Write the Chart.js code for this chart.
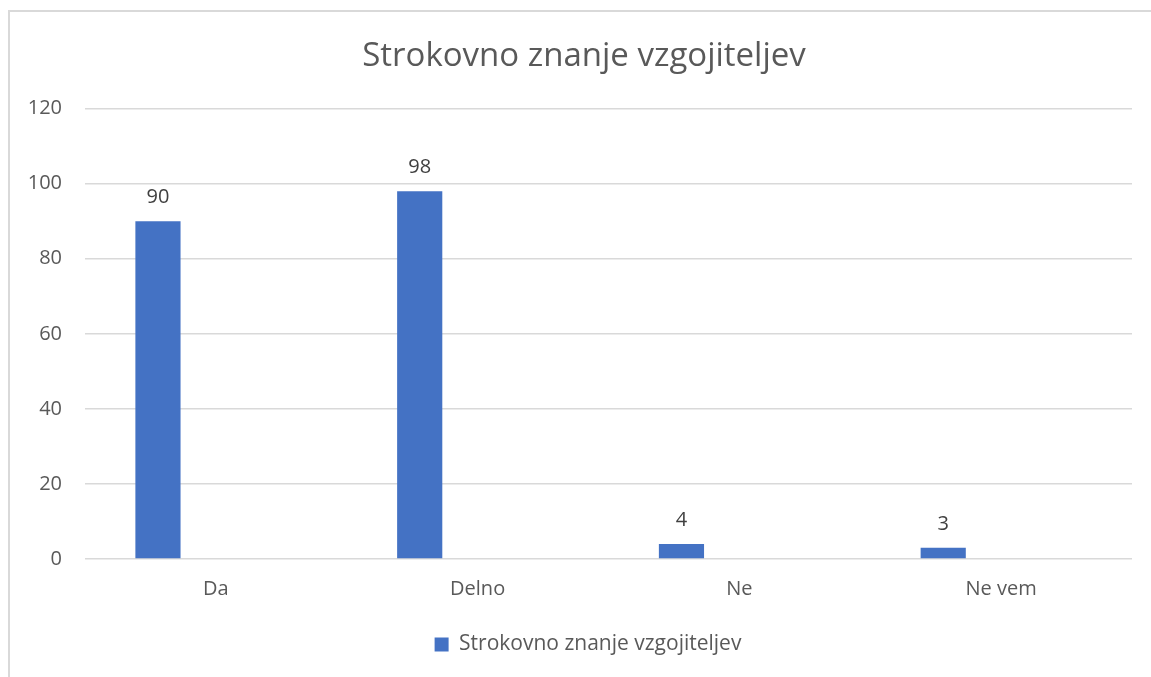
<!DOCTYPE html>
<html>
<head>
<meta charset="utf-8">
<script src="https://cdn.jsdelivr.net/npm/chart.js@4.4.1/dist/chart.umd.min.js"></script>
<style>
  html, body { margin: 0; padding: 0; background: #fff; overflow: hidden; width: 1151px; height: 677px; }
  #clip { position: absolute; left: 0; top: 0; width: 1151px; height: 677px; overflow: hidden; }
  #frame { position: absolute; left: 8px; top: 10px; width: 1400px; height: 900px;
           border-left: 2px solid #d9d9d9; border-top: 2px solid #d9d9d9; }
  #wrap { position: absolute; left: 0; top: 0; width: 1151px; height: 677px; }
</style>
</head>
<body>
<div id="clip"><div id="frame"></div></div>
<div id="wrap"><canvas id="chart"></canvas></div>
<script>
// Kategorien und Werte
const categories = ['Da', 'Delno', 'Ne', 'Ne vem'];
const znanje = [90, 98, 4, 3];
// leere zweite Reihe (wie im Excel-Original, schiebt Balken nach links)
const prazno = [null, null, null, null];
const yTicks = [0, 20, 40, 60, 80, 100, 120];

const FONT = '"Open Sans", "Liberation Sans", sans-serif';

// Werte über den Balken
const valueLabels = {
  id: 'valueLabels',
  afterDatasetsDraw(chart) {
    const ctx = chart.ctx;
    const meta = chart.getDatasetMeta(0);
    ctx.save();
    ctx.font = '20px ' + FONT;
    ctx.fillStyle = '#404040';
    ctx.textAlign = 'center';
    ctx.textBaseline = 'alphabetic';
    meta.data.forEach((bar, i) => {
      ctx.fillText(String(znanje[i]), bar.x, bar.y - 18);
    });
    ctx.restore();
  }
};

// Titel und Legende etwas nach rechts (im Original mittig im Rahmen)
const shiftBlocks = {
  id: 'shiftBlocks',
  afterLayout(chart) {
    chart.titleBlock.left += 18;
    chart.titleBlock.right += 18;
    chart.legend.left += 22;
    chart.legend.right += 22;
  }
};

new Chart(document.getElementById('chart'), {
  type: 'bar',
  data: {
    labels: categories,
    datasets: [{
      label: 'Strokovno znanje vzgojiteljev',
      data: znanje,
      backgroundColor: '#4472C4',
      categoryPercentage: 0.885,
      barPercentage: 0.39
    }, {
      label: '',
      data: prazno,
      backgroundColor: '#ED7D31',
      categoryPercentage: 0.885,
      barPercentage: 0.39
    }]
  },
  options: {
    responsive: true,
    maintainAspectRatio: false,
    animation: false,
    layout: { padding: { left: 0, right: 19, top: 0, bottom: 12 } },
    scales: {
      x: {
        grid: { display: false },
        border: { display: false },
        ticks: { color: '#595959', font: { family: FONT, size: 20 }, padding: 10 },
        afterFit: (s) => { s.height = 60; }
      },
      y: {
        min: 0,
        max: 120,
        afterBuildTicks: (s) => { s.ticks = yTicks.map(v => ({ value: v })); },
        grid: { color: '#d9d9d9', lineWidth: 1.5, drawTicks: false },
        border: { display: false },
        ticks: { color: '#595959', font: { family: FONT, size: 20 }, padding: 23 },
        afterFit: (s) => { s.width = 85; }
      }
    },
    plugins: {
      title: {
        display: true,
        text: 'Strokovno znanje vzgojiteljev',
        color: '#595959',
        font: { family: FONT, size: 33, weight: 'normal' },
        padding: { top: 37, bottom: 32 }
      },
      legend: {
        position: 'bottom',
        labels: {
          color: '#595959',
          font: { family: FONT, size: 21 },
          boxWidth: 14,
          boxHeight: 14,
          padding: 15,
          filter: (item) => item.text !== ''
        }
      },
      tooltip: { enabled: false }
    }
  },
  plugins: [valueLabels, shiftBlocks]
});
</script>
</body>
</html>
